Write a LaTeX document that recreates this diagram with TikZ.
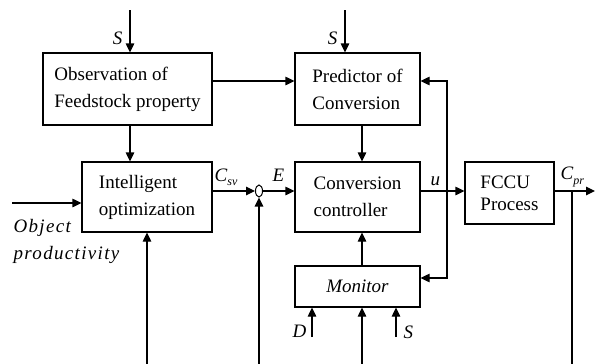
\documentclass[tikz,border=0pt]{standalone}
\usepackage{fontspec}
\setmainfont{Liberation Serif}
\usetikzlibrary{arrows.meta,shapes.geometric}
\begin{document}
\begin{tikzpicture}[x=1pt,y=-1pt,line width=1.2pt,
  box/.style={draw,rectangle,inner sep=0pt,align=left},
  arr/.style={-{Triangle[length=9pt,width=8.5pt]}},
  lbl/.style={inner sep=0pt},
  font=\fontsize{19}{27}\selectfont]
\useasboundingbox (0,0) rectangle (595,364);
% boxes
\node[box,minimum width=169pt,minimum height=72pt] (obs) at (127.5,89) {Observation of\\Feedstock property};
\node[box,minimum width=125pt,minimum height=72pt] (pred) at (357.5,89) {Predictor of\\Conversion};
\node[box,minimum width=130pt,minimum height=70pt] (intel) at (147,197) {Intelligent\\optimization};
\node[box,minimum width=125pt,minimum height=70pt] (conv) at (357.5,197) {Conversion\\controller};
\node[box,minimum width=89pt,minimum height=62pt,font=\fontsize{19}{22}\selectfont] (fccu) at (509.5,193) {FCCU\\Process};
\node[box,minimum width=125pt,minimum height=41pt] (mon) at (357.5,286.5) {\textit{Monitor}};
\node[draw,ellipse,minimum width=7pt,minimum height=12pt,inner sep=0pt,line width=1pt] (sum) at (259,191) {};
% coordinates
\coordinate (s1) at (130,10);
\coordinate (s2) at (345,10);
\coordinate (h81) at (0,81);
\coordinate (c362) at (362,0);
\coordinate (in) at (12,203);
\coordinate (j) at (447,191);
\coordinate (pfb) at (447,81);
\coordinate (mfb) at (447,278);
\coordinate (out) at (595,191);
\coordinate (fb) at (572,191);
\coordinate (fbb) at (572,364);
\coordinate (b1) at (147,364);
\coordinate (b2) at (259,364);
\coordinate (b3) at (362,364);
\coordinate (dd) at (312,337);
\coordinate (ss) at (396,337);
% connectors
\draw[arr] (s1) -- (s1 |- obs.north);
\draw[arr] (s2) -- (s2 |- pred.north);
\draw[arr] (obs.east |- h81) -- (pred.west |- h81);
\draw[arr] (s1 |- obs.south) -- (s1 |- intel.north);
\draw[arr] (c362 |- pred.south) -- (c362 |- conv.north);
\draw[arr] (in) -- (in -| intel.west);
\draw[arr] (intel.east |- sum) -- (sum.west);
\draw[arr] (sum.east) -- (sum -| conv.west);
\draw (conv.east |- j) -- (j);
\draw[arr] (j) -- (j -| fccu.west);
\draw[arr] (j) -- (pfb) -- (pfb -| pred.east);
\draw[arr] (j) -- (mfb) -- (mfb -| mon.east);
\draw[arr] (c362 |- mon.north) -- (c362 |- conv.south);
\draw[arr] (dd) -- (dd |- mon.south);
\draw[arr] (ss) -- (ss |- mon.south);
\draw[arr] (b3) -- (b3 |- mon.south);
\draw[arr] (b1) -- (b1 |- intel.south);
\draw[arr] (b2) -- (sum.south);
\draw[arr] (fccu.east |- out) -- (out);
\draw (fb) -- (fbb);
% labels
\node[lbl,anchor=base east] at (123,45) {\textit{S}};
\node[lbl,anchor=base east] at (338,45) {\textit{S}};
\node[lbl,anchor=base west] at (214,181) {\textit{C}\raisebox{-4pt}{\fontsize{12}{12}\selectfont\textit{sv}}};
\node[lbl,anchor=base west] at (272,181) {\textit{E}};
\node[lbl,anchor=base west] at (430,185) {\textit{u}};
\node[lbl,anchor=base west] at (560,179) {\textit{C}\raisebox{-5pt}{\fontsize{12}{12}\selectfont\textit{pr}}};
\node[lbl,anchor=base east] at (307,337) {\textit{D}};
\node[lbl,anchor=base west] at (403,338) {\textit{S}};
\node[lbl,anchor=base west,font=\fontsize{19}{27}\selectfont\itshape\addfontfeatures{LetterSpace=7}] at (13,232) {Object};
\node[lbl,anchor=base west,font=\fontsize{19}{27}\selectfont\itshape\addfontfeatures{LetterSpace=7}] at (13,259) {productivity};
\end{tikzpicture}
\end{document}
